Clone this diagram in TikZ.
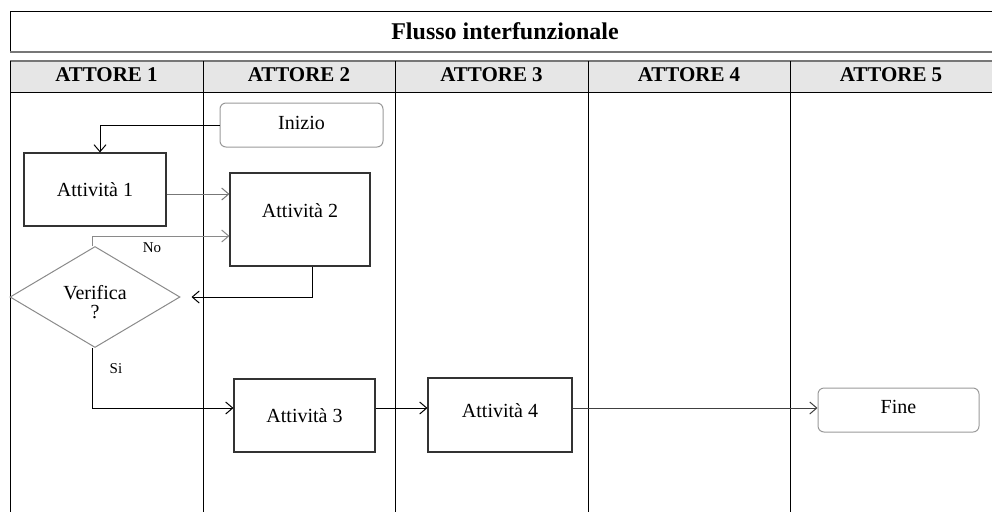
\documentclass[tikz,border=0pt]{standalone}
\usepackage{fontspec}
\setmainfont{Liberation Serif}
\usetikzlibrary{arrows.meta,shapes.geometric}

\definecolor{headfill}{HTML}{E6E6E6}
\definecolor{rulegray}{HTML}{777777}
\definecolor{boxgray}{HTML}{333333}
\definecolor{softgray}{HTML}{999999}
\definecolor{diagray}{HTML}{8A8A8A}

\tikzset{
  lane/.style={draw=black, line width=1pt},
  actor/.style={font=\fontsize{21}{21}\selectfont\bfseries, inner sep=0pt},
  stepbox/.style={draw=boxgray, line width=1.1pt, inner sep=0pt,
    font=\fontsize{20}{22}\selectfont},
  terminal/.style={draw=softgray, line width=1pt, rounded corners=6pt,
    inner sep=0pt, font=\fontsize{20}{22}\selectfont},
  decision/.style={diamond, draw=diagray, line width=1pt, aspect=1.7,
    inner sep=0pt, minimum width=170pt, minimum height=101pt, align=center,
    font=\fontsize{20}{19}\selectfont},
  flow/.style={draw=black, line width=1pt,
    -{Straight Barb[length=7pt,width=12pt,line width=1pt]}},
  tag/.style={font=\fontsize{15}{15}\selectfont, inner sep=0pt},
}

\begin{document}
\begin{tikzpicture}[x=1pt, y=-1pt]
  \useasboundingbox (0,0) rectangle (992,512);

  % title bar
  \draw[line width=1pt] (992,11) -- (10,11) -- (10,52);
  \draw[rulegray, line width=2pt] (10,52) -- (992,52);
  \node[font=\fontsize{24}{24}\selectfont\bfseries, inner sep=0pt]
    (title) at (505,31) {Flusso interfunzionale};

  % lane header row
  \fill[headfill] (10,61) rectangle (992,92);
  \draw[rulegray, line width=2pt] (10,61) -- (992,61);
  \draw[line width=1pt] (10,92) -- (992,92);

  % lane dividers
  \foreach \x in {10,203,395,588,790}
    \draw[lane] (\x,61) -- (\x,512);

  \node[actor] (h1) at (106.5,75) {ATTORE 1};
  \node[actor] (h2) at (299,75)   {ATTORE 2};
  \node[actor] (h3) at (491.5,75) {ATTORE 3};
  \node[actor] (h4) at (689,75)   {ATTORE 4};
  \node[actor] (h5) at (891,75)   {ATTORE 5};

  % process nodes
  \node[terminal, minimum width=163pt, minimum height=44pt, text depth=4pt]
    (start) at (301.5,125) {Inizio};
  \node[stepbox, minimum width=142pt, minimum height=73pt]
    (a1) at (95,189.5) {Attività 1};
  \node[stepbox, minimum width=140pt, minimum height=93pt, text depth=18pt]
    (a2) at (300,219.5) {Attività 2};
  \node[decision, text height=43pt, text depth=1pt] (chk) at (95,297) {Verifica\\?};
  \node[stepbox, minimum width=141pt, minimum height=73pt]
    (a3) at (304.5,415.5) {Attività 3};
  \node[stepbox, minimum width=144pt, minimum height=74pt, text depth=8pt]
    (a4) at (500,415) {Attività 4};
  \node[terminal, minimum width=161pt, minimum height=44pt, text depth=6pt]
    (stop) at (898.5,410) {Fine};

  % connectors
  \draw[flow] (start.west) -| ([xshift=5pt]a1.north);
  \draw[flow, draw=rulegray] ([yshift=-4.5pt]a1.east) -- ([yshift=-4.5pt]a1.east -| a2.west);
  \draw[flow, draw=diagray] ([xshift=-3pt]chk.north) |- ([yshift=-16.5pt]a2.west);
  \draw[flow] ([xshift=12pt]a2.south) |- ([xshift=11pt]chk.east);
  \draw[flow] ([xshift=-3pt]chk.south) |- ([yshift=7.5pt]a3.west);
  \draw[flow] ([yshift=7.5pt]a3.east) -- ([yshift=7.5pt]a3.east -| a4.west);
  \draw[flow, draw=black!75] ([yshift=7pt]a4.east) -- ([yshift=7pt]a4.east -| stop.west);

  % branch labels
  \node[tag] (no) at (152,248) {No};
  \node[tag] (si) at (116,369) {Si};
\end{tikzpicture}
\end{document}
